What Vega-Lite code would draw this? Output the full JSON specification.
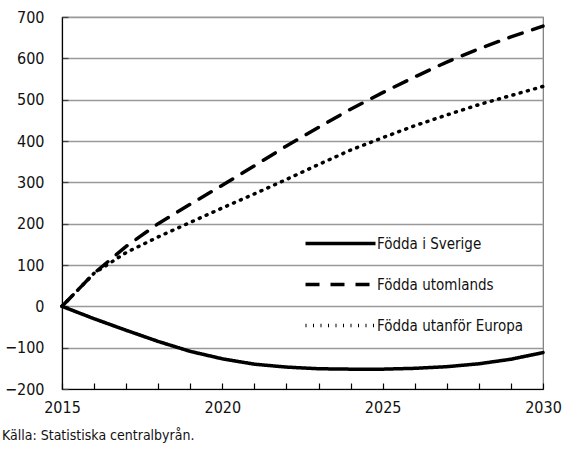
{
  "$schema": "https://vega.github.io/schema/vega-lite/v6.json",
  "width": 481,
  "height": 372,
  "autosize": {"type": "none"},
  "padding": {"left": 62, "top": 17, "right": 20, "bottom": 61},
  "background": "white",
  "config": {
    "font": "DejaVu Sans Condensed",
    "view": {"stroke": "#777", "strokeWidth": 1.2},
    "axis": {"labelFont": "DejaVu Sans Condensed", "labelColor": "#111", "labelFontSize": 16}
  },
  "title": {
    "text": "Källa: Statistiska centralbyrån.",
    "orient": "bottom",
    "anchor": "start",
    "frame": "group",
    "dx": -60,
    "offset": 14,
    "fontSize": 14,
    "fontWeight": "normal",
    "color": "#111",
    "font": "DejaVu Sans Condensed"
  },
  "data": {
    "values": [
      {"year": 2015, "series": "Födda i Sverige", "value": 0},
      {"year": 2016, "series": "Födda i Sverige", "value": -30},
      {"year": 2017, "series": "Födda i Sverige", "value": -58},
      {"year": 2018, "series": "Födda i Sverige", "value": -85},
      {"year": 2019, "series": "Födda i Sverige", "value": -109},
      {"year": 2020, "series": "Födda i Sverige", "value": -127},
      {"year": 2021, "series": "Födda i Sverige", "value": -140},
      {"year": 2022, "series": "Födda i Sverige", "value": -147},
      {"year": 2023, "series": "Födda i Sverige", "value": -151},
      {"year": 2024, "series": "Födda i Sverige", "value": -152},
      {"year": 2025, "series": "Födda i Sverige", "value": -152},
      {"year": 2026, "series": "Födda i Sverige", "value": -150},
      {"year": 2027, "series": "Födda i Sverige", "value": -146},
      {"year": 2028, "series": "Födda i Sverige", "value": -139},
      {"year": 2029, "series": "Födda i Sverige", "value": -128},
      {"year": 2030, "series": "Födda i Sverige", "value": -112},
      {"year": 2015, "series": "Födda utomlands", "value": 0},
      {"year": 2016, "series": "Födda utomlands", "value": 80},
      {"year": 2017, "series": "Födda utomlands", "value": 145},
      {"year": 2018, "series": "Födda utomlands", "value": 200},
      {"year": 2019, "series": "Födda utomlands", "value": 247},
      {"year": 2020, "series": "Födda utomlands", "value": 293},
      {"year": 2021, "series": "Födda utomlands", "value": 340},
      {"year": 2022, "series": "Födda utomlands", "value": 388},
      {"year": 2023, "series": "Födda utomlands", "value": 433},
      {"year": 2024, "series": "Födda utomlands", "value": 477},
      {"year": 2025, "series": "Födda utomlands", "value": 517},
      {"year": 2026, "series": "Födda utomlands", "value": 555},
      {"year": 2027, "series": "Födda utomlands", "value": 591},
      {"year": 2028, "series": "Födda utomlands", "value": 623},
      {"year": 2029, "series": "Födda utomlands", "value": 652},
      {"year": 2030, "series": "Födda utomlands", "value": 678},
      {"year": 2015, "series": "Födda utanför Europa", "value": 0},
      {"year": 2016, "series": "Födda utanför Europa", "value": 80},
      {"year": 2017, "series": "Födda utanför Europa", "value": 130},
      {"year": 2018, "series": "Födda utanför Europa", "value": 168},
      {"year": 2019, "series": "Födda utanför Europa", "value": 203},
      {"year": 2020, "series": "Födda utanför Europa", "value": 238},
      {"year": 2021, "series": "Födda utanför Europa", "value": 272},
      {"year": 2022, "series": "Födda utanför Europa", "value": 307},
      {"year": 2023, "series": "Födda utanför Europa", "value": 343},
      {"year": 2024, "series": "Födda utanför Europa", "value": 378},
      {"year": 2025, "series": "Födda utanför Europa", "value": 408},
      {"year": 2026, "series": "Födda utanför Europa", "value": 437},
      {"year": 2027, "series": "Födda utanför Europa", "value": 463},
      {"year": 2028, "series": "Födda utanför Europa", "value": 488},
      {"year": 2029, "series": "Födda utanför Europa", "value": 510},
      {"year": 2030, "series": "Födda utanför Europa", "value": 532}
    ]
  },
  "mark": {"type": "line", "color": "black", "strokeWidth": 3.5, "strokeCap": "round", "clip": false},
  "encoding": {
    "x": {
      "field": "year",
      "type": "quantitative",
      "scale": {"domain": [2015, 2030], "nice": false, "zero": false},
      "axis": {
        "title": null,
        "values": [2015, 2016, 2017, 2018, 2019, 2020, 2021, 2022, 2023, 2024, 2025, 2026, 2027, 2028, 2029, 2030],
        "format": "d",
        "labelExpr": "datum.value % 5 === 0 ? datum.label : ''",
        "grid": false,
        "domainColor": "black",
        "domainWidth": 1.2,
        "tickColor": "black",
        "tickWidth": 1.2,
        "tickSize": -6,
        "labelPadding": 16,
        "labelFlush": false,
        "labelOverlap": false
      }
    },
    "y": {
      "field": "value",
      "type": "quantitative",
      "scale": {"domain": [-200, 700], "nice": false},
      "axis": {
        "title": null,
        "values": [-200, -100, 0, 100, 200, 300, 400, 500, 600, 700],
        "format": "d",
        "grid": true,
        "gridColor": "#999",
        "gridWidth": 1.3,
        "domainColor": "black",
        "domainWidth": 1.2,
        "tickColor": "#444",
        "tickWidth": 1.3,
        "tickSize": -6,
        "labelPadding": 24
      }
    },
    "strokeDash": {
      "field": "series",
      "type": "nominal",
      "scale": {
        "domain": ["Födda i Sverige", "Födda utomlands", "Födda utanför Europa"],
        "range": [[1, 0], [14, 11], [1, 6.5]]
      },
      "legend": {
        "title": null,
        "orient": "none",
        "legendX": 259,
        "legendY": 207,
        "symbolType": "M-2,0H2",
        "symbolSize": 1225,
        "symbolStrokeWidth": 3.5,
        "symbolStrokeColor": "black",
        "symbolFillColor": "transparent",
        "labelFontSize": 15,
        "labelFont": "DejaVu Sans Condensed",
        "labelColor": "#111",
        "labelOffset": 17,
        "rowPadding": 13
      }
    }
  }
}
